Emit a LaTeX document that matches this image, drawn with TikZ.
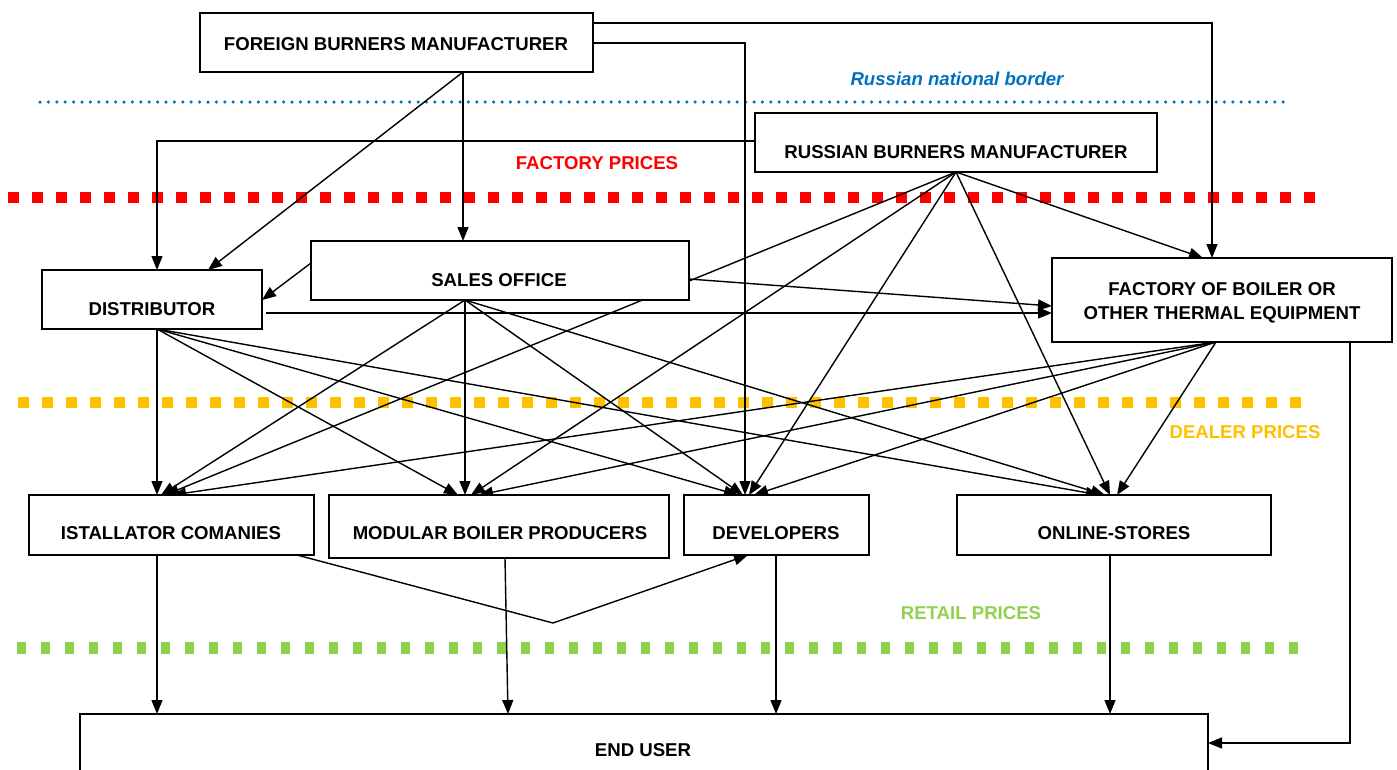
\documentclass[tikz,border=0pt]{standalone}
\usepackage{fontspec}
\setmainfont{Liberation Sans}
\usetikzlibrary{arrows.meta,calc}
\pgfdeclarelayer{dotsl}
\pgfdeclarelayer{linesl}
\pgfsetlayers{dotsl,linesl,main}
\definecolor{bordblue}{RGB}{0,112,192}
\definecolor{factred}{RGB}{255,0,0}
\definecolor{dealorange}{RGB}{255,192,0}
\definecolor{retgreen}{RGB}{146,208,80}
\tikzset{
  box/.style={draw, line width=1.8pt, fill=white, anchor=north west, inner sep=0pt, outer sep=0pt},
  lbl/.style={font=\bfseries\fontsize{18.6}{24}\selectfont, anchor=base, inner sep=0pt},
  conn/.style={line width=1.4pt},
  arr/.style={conn, -{Triangle[length=14pt,width=11pt]}},
  bluedots/.style={bordblue, line width=3.5pt, line cap=round, dash pattern=on 0pt off 8.4pt},
  reddash/.style={factred, line width=11pt, dash pattern=on 10.5pt off 13.5pt},
  orangedash/.style={dealorange, line width=11pt, dash pattern=on 11pt off 13pt},
  greendash/.style={retgreen, line width=12pt, dash pattern=on 9pt off 15pt},
}
\begin{document}
\begin{tikzpicture}[x=1pt, y=-1pt]
\useasboundingbox (0,0) rectangle (1397,769);
\clip (0,0) rectangle (1397,769);

% boxes
\node[box, minimum width=393pt, minimum height=59pt] (fbm) at (200,13) {};
\node[box, minimum width=402pt, minimum height=59pt] (rbm) at (755,113) {};
\node[box, minimum width=378pt, minimum height=59pt] (sales) at (311,241) {};
\node[box, minimum width=220pt, minimum height=59pt] (dist) at (42,270) {};
\node[box, minimum width=340pt, minimum height=84pt] (fact) at (1052,258) {};
\node[box, minimum width=285pt, minimum height=60pt] (inst) at (29,495) {};
\node[box, minimum width=340pt, minimum height=63pt] (modu) at (329,495) {};
\node[box, minimum width=185pt, minimum height=60pt] (dev) at (684,495) {};
\node[box, minimum width=314pt, minimum height=60pt] (onl) at (957,495) {};
\node[box, minimum width=1128pt, minimum height=100pt] (endu) at (80,714) {};

% texts
\node[lbl] (tfbm) at (396,50) {FOREIGN BURNERS MANUFACTURER};
\node[lbl] (trbm) at (956,158.5) {RUSSIAN BURNERS MANUFACTURER};
\node[lbl] (tsal) at (499,286.5) {SALES OFFICE};
\node[lbl] (tdis) at (152,315.5) {DISTRIBUTOR};
\node[lbl] (tfa1) at (1222,295.5) {FACTORY OF BOILER OR};
\node[lbl] (tfa2) at (1222,319.5) {OTHER THERMAL EQUIPMENT};
\node[lbl] (tins) at (171,539.5) {ISTALLATOR COMANIES};
\node[lbl] (tmod) at (500,539.5) {MODULAR BOILER PRODUCERS};
\node[lbl] (tdev) at (776,539.5) {DEVELOPERS};
\node[lbl] (tonl) at (1114,539.5) {ONLINE-STORES};
\node[lbl] (tend) at (643,756.5) {END USER};
\node[lbl, text=bordblue, font=\bfseries\itshape\fontsize{18.6}{24}\selectfont] (tborder) at (957,85.5) {Russian national border};
\node[lbl, text=factred] (tfp) at (597,169.5) {FACTORY PRICES};
\node[lbl, text=dealorange] (tdp) at (1245,438.5) {DEALER PRICES};
\node[lbl, text=retgreen] (trp) at (971,619.5) {RETAIL PRICES};

% price lines
\begin{pgfonlayer}{dotsl}
\coordinate (bl1) at (40,102); \coordinate (bl2) at (1287,102);
\coordinate (rd1) at (8,197.5); \coordinate (rd2) at (1318,197.5);
\coordinate (or1) at (18,402); \coordinate (or2) at (1302,402);
\coordinate (gr1) at (17,647.5); \coordinate (gr2) at (1302,647.5);
\draw[bluedots] (bl1) -- (bl2);
\draw[reddash] (rd1) -- (rd2);
\draw[orangedash] (or1) -- (or2);
\draw[greendash] (gr1) -- (gr2);
\end{pgfonlayer}

% connectors
\begin{pgfonlayer}{linesl}
\coordinate (fbmB) at (fbm.south -| 463,0);
\coordinate (rbmB) at (rbm.south -| 956,0);
\coordinate (salB) at (sales.south -| 465,0);
\coordinate (disB) at (dist.south -| 157,0);
\coordinate (facB) at (fact.south -| 1216,0);

\draw[arr] (fbmB) -- (sales.north -| 463,0);
\draw[arr] (fbmB) -- (dist.north -| 208,0);
\draw[arr] (fbm.east |- 0,23) -- (1212,23) -- (fact.north -| 1212,0);
\draw[arr] (fbm.east |- 0,43) -- (745,43) -- (dev.north -| 745,0);
\draw[arr] (rbm.west |- 0,141) -- (157,141) -- (dist.north -| 157,0);

\draw[arr] (sales.west |- 0,263) -- (dist.east |- 0,300);
\draw[arr] ($(dist.east |- 0,313)+(4,0)$) -- (fact.west |- 0,313);
\draw[arr] (sales.east |- 0,279) -- (fact.west |- 0,306);

\draw[arr] (rbmB) -- (fact.north -| 1203,0);
\draw[arr] (rbmB) -- (inst.north -| 165,0);
\draw[arr] (rbmB) -- (modu.north -| 471,0);
\draw[arr] (rbmB) -- (dev.north -| 749,0);
\draw[arr] (rbmB) -- (onl.north -| 1110,0);

\draw[arr] (salB) -- (inst.north -| 161,0);
\draw[arr] (salB) -- (modu.north -| 465,0);
\draw[arr] (salB) -- (dev.north -| 743,0);
\draw[arr] (salB) -- (onl.north -| 1105,0);

\draw[arr] (disB) -- (inst.north -| 157,0);
\draw[arr] (disB) -- (modu.north -| 458,0);
\draw[arr] (disB) -- (dev.north -| 738,0);
\draw[arr] (disB) -- (onl.north -| 1100,0);

\draw[arr] (facB) -- (inst.north -| 172,0);
\draw[arr] (facB) -- (modu.north -| 479,0);
\draw[arr] (facB) -- (dev.north -| 754,0);
\draw[arr] (facB) -- (onl.north -| 1117,0);

\draw[arr] (inst.south -| 297,0) -- (553,623) -- (dev.south -| 748,0);

\draw[arr] (inst.south -| 157,0) -- (endu.north -| 157,0);
\draw[arr] (modu.south -| 505,0) -- (endu.north -| 508,0);
\draw[arr] (dev.south -| 776,0) -- (endu.north -| 776,0);
\draw[arr] (onl.south -| 1110,0) -- (endu.north -| 1110,0);
\draw[arr] (fact.south -| 1350,0) -- (1350,743) -- (endu.east |- 0,743);
\end{pgfonlayer}
\end{tikzpicture}
\end{document}
